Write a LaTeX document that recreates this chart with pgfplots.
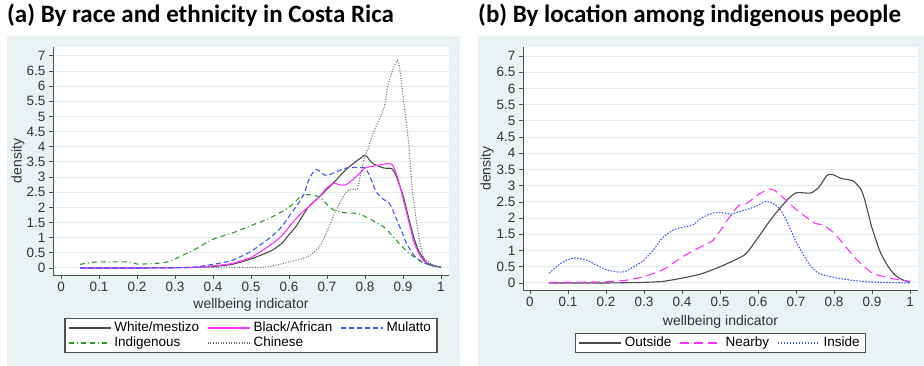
\documentclass[border=0pt]{standalone}
\usepackage{fontspec}
\setmainfont{Liberation Sans}
\newfontfamily\titlefont{Carlito}
\usepackage{pgfplots}
\pgfplotsset{compat=1.18}
\definecolor{panel}{HTML}{EAF2F3}
\definecolor{gridc}{HTML}{E4EDEF}
\definecolor{axc}{HTML}{505050}
\definecolor{whitec}{HTML}{4A4A4A}
\definecolor{magc}{HTML}{FF33FF}
\definecolor{bluec}{HTML}{4055FF}
\definecolor{greenc}{HTML}{2E9A2E}
\definecolor{chinc}{HTML}{707070}
\definecolor{txtc}{HTML}{333333}
\definecolor{dummyc}{HTML}{5A5A5B}
\pgfplotsset{mystyle/.style={
  scale only axis, axis lines*=left,
  axis line style={axc, line width=0.9pt, -},
  tick style={axc, line width=0.9pt},
  tick align=outside, major tick length=4pt,
  ytick={0,0.5,1,1.5,2,2.5,3,3.5,4,4.5,5,5.5,6,6.5,7},
  xtick={0,0.1,0.2,0.3,0.4,0.5,0.6,0.7,0.8,0.9,1},
  ymajorgrids, grid style={gridc, line width=1pt},
  axis background/.style={fill=white},
  tick label style={font=\fontsize{13.5}{14}\selectfont, text=txtc},
  /pgf/number format/assume math mode=true,
  label style={font=\fontsize{14}{15}\selectfont, text=txtc},
  legend cell align=left,
  legend image code/.code={\colorlet{legc}{.}\draw[color=dummyc, ##1, color=legc, line width=1.4pt] (0pt,0pt) -- (42pt,0pt);},
  legend style={draw=axc, line width=1.3pt, fill=white, inner xsep=3pt, inner ysep=2pt,
    font=\fontsize{13.5}{14}\selectfont,
    nodes={inner xsep=3pt, inner ysep=1pt, text height=10pt, text depth=3pt},
    column sep=0pt, /tikz/every even column/.append style={column sep=5pt},
    anchor=north},
}}
\begin{document}
\begin{tikzpicture}
\fill[white] (0pt,0pt) rectangle (924pt,366pt);
\fill[panel] (7pt,0pt) rectangle (460pt,330pt);
\fill[panel] (478pt,0pt) rectangle (924pt,330pt);
\node[anchor=base west, inner sep=0pt, text=black] at (7pt,343pt) {\titlefont\bfseries\fontsize{25}{29}\selectfont (a) By race and ethnicity in Costa Rica};
\node[anchor=base west, inner sep=0pt, text=black] at (478pt,343pt) {\titlefont\bfseries\fontsize{25}{29}\selectfont (b) By location among indigenous people};

\begin{axis}[mystyle, at={(53pt,91pt)}, anchor=south west, width=396pt, height=228pt,
  xmin=-0.0211, xmax=1.0211, ymin=-0.231, ymax=7.294,
  xlabel={wellbeing indicator}, ylabel={density},
  xlabel style={at={(axis description cs:0.5,-0.1316)}, anchor=center},
  ylabel style={at={(axis description cs:-0.0884,0.5)}, anchor=center},
  legend columns=3, legend style={at={(0.5,-0.1886)}}]
\addplot[color=whitec, line width=1.1pt, smooth, tension=0.4] coordinates {(0.05,0) (0.1,0) (0.2,0) (0.3,0.01) (0.35,0.02) (0.4,0.05) (0.45,0.12) (0.5,0.3) (0.55,0.55) (0.58,0.8) (0.6,1.1) (0.62,1.4) (0.65,2.0) (0.68,2.35) (0.7,2.6) (0.72,2.85) (0.75,3.25) (0.78,3.55) (0.8,3.72) (0.81,3.6) (0.82,3.45) (0.85,3.3) (0.87,3.28) (0.88,3.1) (0.9,2.4) (0.91,1.9) (0.92,1.4) (0.93,0.95) (0.94,0.6) (0.96,0.2) (0.98,0.08) (1.0,0.03)};
\addlegendentry{White/mestizo}
\addplot[color=magc, line width=1.1pt, smooth, tension=0.4] coordinates {(0.05,0) (0.2,0) (0.3,0.01) (0.35,0.02) (0.4,0.07) (0.45,0.15) (0.5,0.35) (0.55,0.75) (0.58,1.05) (0.6,1.35) (0.62,1.65) (0.64,1.9) (0.65,2.0) (0.68,2.35) (0.7,2.65) (0.72,2.8) (0.73,2.75) (0.75,2.75) (0.78,3.05) (0.8,3.3) (0.82,3.35) (0.85,3.43) (0.87,3.43) (0.88,3.2) (0.89,2.8) (0.9,2.3) (0.91,1.8) (0.92,1.3) (0.93,0.8) (0.95,0.3) (0.97,0.1) (1.0,0.03)};
\addlegendentry{Black/African}
\addplot[color=bluec, line width=1.1pt, dash pattern=on 5pt off 3pt, smooth, tension=0.4] coordinates {(0.05,0) (0.2,0) (0.3,0.01) (0.35,0.03) (0.4,0.12) (0.45,0.25) (0.5,0.55) (0.55,1.0) (0.58,1.35) (0.6,1.7) (0.62,2.05) (0.64,2.45) (0.65,2.85) (0.66,3.1) (0.67,3.25) (0.68,3.2) (0.69,3.1) (0.7,3.05) (0.72,3.15) (0.75,3.3) (0.78,3.32) (0.8,3.3) (0.81,3.1) (0.82,2.8) (0.83,2.5) (0.85,2.25) (0.86,2.2) (0.87,2.0) (0.88,1.7) (0.89,1.4) (0.9,1.1) (0.91,0.8) (0.93,0.4) (0.95,0.2) (0.97,0.1) (1.0,0.02)};
\addlegendentry{Mulatto}
\addplot[color=greenc, line width=1.1pt, dash pattern=on 5pt off 3pt on 1pt off 3pt on 5pt off 4pt, smooth, tension=0.4] coordinates {(0.05,0.12) (0.08,0.18) (0.1,0.2) (0.15,0.2) (0.18,0.2) (0.2,0.13) (0.25,0.15) (0.28,0.2) (0.3,0.3) (0.35,0.6) (0.4,0.95) (0.45,1.15) (0.5,1.4) (0.55,1.65) (0.6,2.0) (0.63,2.35) (0.65,2.42) (0.68,2.35) (0.7,2.1) (0.72,1.9) (0.75,1.82) (0.78,1.8) (0.8,1.7) (0.85,1.35) (0.88,0.95) (0.9,0.68) (0.92,0.45) (0.95,0.2) (0.98,0.07) (1.0,0.03)};
\addlegendentry{Indigenous}
\addplot[color=chinc, line width=1.1pt, dash pattern=on 1pt off 1.6pt, smooth, tension=0.4] coordinates {(0.38,0.02) (0.45,0.03) (0.5,0.02) (0.55,0.05) (0.6,0.2) (0.65,0.38) (0.68,0.7) (0.7,1.2) (0.72,1.8) (0.75,2.5) (0.77,2.6) (0.78,2.6) (0.79,3.2) (0.8,3.7) (0.81,4.0) (0.82,4.4) (0.85,5.3) (0.86,6.0) (0.875,6.6) (0.888,6.82) (0.902,5.5) (0.915,4.1) (0.921,3.1) (0.928,2.2) (0.941,1.1) (0.954,0.36) (0.98,0.09) (1.0,0.02)};
\addlegendentry{Chinese}
\end{axis}

\begin{axis}[mystyle, at={(523pt,76pt)}, anchor=south west, width=395pt, height=243pt,
  xmin=-0.0184, xmax=1.021, ymin=-0.216, ymax=7.28,
  xlabel={wellbeing indicator}, ylabel={density},
  xlabel style={at={(axis description cs:0.5,-0.1317)}, anchor=center},
  ylabel style={at={(axis description cs:-0.0911,0.5)}, anchor=center},
  legend columns=3, legend style={at={(0.5,-0.177)}}]
\addplot[color=whitec, line width=1.1pt, smooth, tension=0.4] coordinates {(0.05,0) (0.2,0) (0.3,0.02) (0.35,0.05) (0.4,0.15) (0.45,0.28) (0.5,0.5) (0.55,0.77) (0.57,0.92) (0.6,1.4) (0.63,1.9) (0.65,2.2) (0.68,2.6) (0.7,2.78) (0.72,2.78) (0.74,2.78) (0.76,2.95) (0.78,3.3) (0.79,3.35) (0.8,3.33) (0.82,3.22) (0.85,3.15) (0.87,2.9) (0.88,2.6) (0.89,2.15) (0.9,1.7) (0.92,1.0) (0.94,0.55) (0.96,0.25) (0.98,0.1) (1.0,0.02)};
\addlegendentry{Outside}
\addplot[color=magc, line width=1.1pt, dash pattern=on 9pt off 5pt, smooth, tension=0.4] coordinates {(0.05,0.02) (0.15,0.03) (0.2,0.04) (0.25,0.08) (0.3,0.2) (0.35,0.41) (0.4,0.8) (0.45,1.12) (0.48,1.3) (0.5,1.6) (0.52,1.95) (0.55,2.4) (0.57,2.45) (0.6,2.72) (0.63,2.9) (0.65,2.8) (0.7,2.27) (0.75,1.84) (0.77,1.8) (0.8,1.54) (0.83,1.13) (0.86,0.72) (0.9,0.31) (0.93,0.2) (0.96,0.12) (1.0,0.05)};
\addlegendentry{Nearby}
\addplot[color=bluec, line width=1.1pt, dash pattern=on 1.5pt off 1.5pt, smooth, tension=0.4] coordinates {(0.05,0.3) (0.08,0.6) (0.1,0.72) (0.12,0.77) (0.15,0.7) (0.18,0.52) (0.2,0.41) (0.23,0.34) (0.25,0.35) (0.28,0.55) (0.3,0.7) (0.33,1.1) (0.35,1.41) (0.38,1.65) (0.4,1.71) (0.43,1.8) (0.45,2.0) (0.48,2.15) (0.5,2.18) (0.53,2.12) (0.55,2.2) (0.58,2.3) (0.6,2.4) (0.62,2.51) (0.64,2.45) (0.66,2.25) (0.68,1.8) (0.7,1.28) (0.72,0.85) (0.74,0.5) (0.76,0.3) (0.8,0.17) (0.85,0.08) (0.9,0.03) (1.0,0.0)};
\addlegendentry{Inside}
\end{axis}
\end{tikzpicture}
\end{document}
